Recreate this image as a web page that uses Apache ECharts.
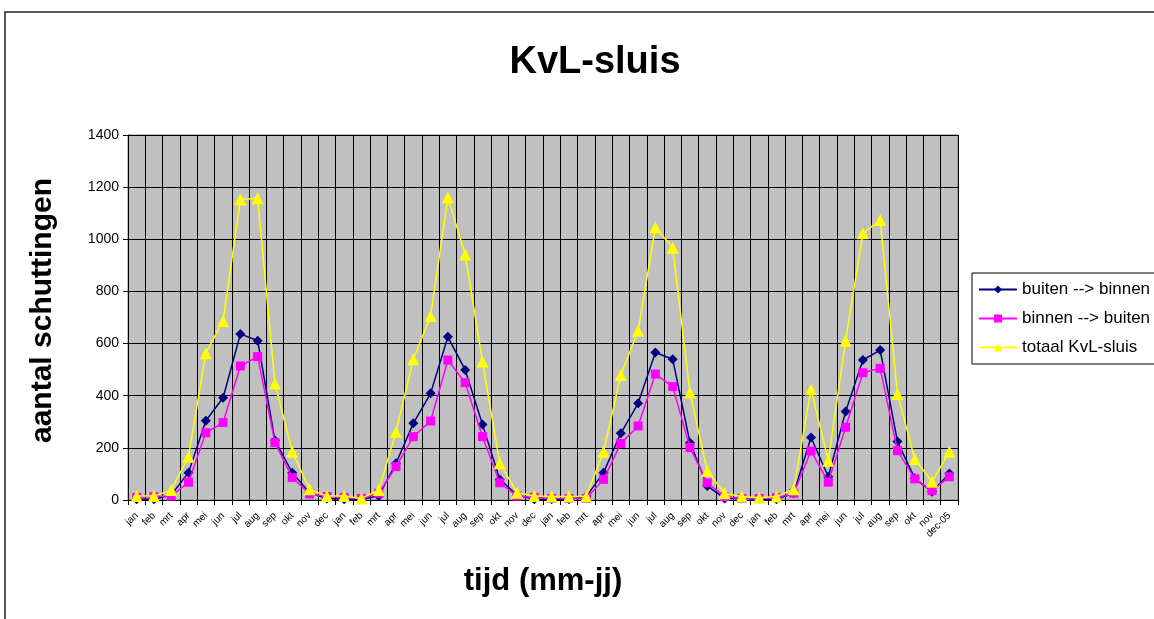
<!DOCTYPE html>
<html>
<head>
<meta charset="utf-8">
<script src="https://cdn.jsdelivr.net/npm/echarts@6/dist/echarts.min.js"></script>
<style>
  html, body { margin: 0; padding: 0; background: #fff; }
  #chart { width: 1154px; height: 619px; }
</style>
</head>
<body>
<div id="chart"></div>
<script>
// maanden jan-02 t/m dec-05
const months = ["jan", "feb", "mrt", "apr", "mei", "jun", "jul", "aug", "sep", "okt", "nov", "dec"];
const years = ["02", "03", "04", "05"];
const categories = [];
years.forEach(y => months.forEach(m => categories.push(m + "-" + y)));

const buitenBinnen = [
  3, 3, 19, 105, 304, 392, 637, 611, 228, 105, 28, 6,
  3, 3, 15, 141, 294, 409, 626, 499, 290, 79, 19, 3,
  3, 3, 13, 105, 256, 371, 566, 540, 220, 54, 6, 6,
  4, 3, 26, 240, 89, 339, 537, 575, 224, 83, 32, 102
];
const binnenBuiten = [
  10, 13, 15, 68, 258, 297, 514, 550, 220, 86, 23, 13,
  10, 6, 26, 128, 243, 303, 537, 450, 243, 66, 15, 10,
  6, 6, 6, 79, 217, 284, 483, 435, 201, 66, 13, 6,
  6, 9, 26, 188, 68, 279, 488, 505, 189, 81, 36, 89
];
const totaal = [
  15, 15, 38, 166, 563, 687, 1153, 1157, 447, 185, 41, 15,
  15, 6, 38, 262, 540, 706, 1160, 942, 531, 141, 28, 15,
  13, 13, 13, 185, 479, 649, 1046, 968, 412, 111, 26, 13,
  9, 13, 41, 424, 151, 611, 1023, 1074, 407, 157, 70, 185
];
const yTicks = [0, 200, 400, 600, 800, 1000, 1200, 1400];

const chart = echarts.init(document.getElementById("chart"));
const font = "Liberation Sans, Arial, sans-serif";

chart.setOption({
  animation: false,
  backgroundColor: "#fff",
  textStyle: { fontFamily: font, color: "#000" },
  title: {
    text: "KvL-sluis",
    left: 590, top: 39, textAlign: "center",
    textStyle: { fontSize: 38, fontWeight: "bold", color: "#000", fontFamily: font }
  },
  graphic: [
    {
      type: "rect", silent: true, z: -1,
      shape: { x: 5, y: 12, width: 1300, height: 800 },
      style: { fill: "none", stroke: "#222", lineWidth: 1.5 }
    }
  ],
  legend: {
    orient: "vertical",
    left: 972, top: 273,
    padding: [8, 10, 8, 6],
    itemGap: 12,
    itemWidth: 38, itemHeight: 10,
    borderColor: "#000", borderWidth: 1,
    textStyle: { fontSize: 17, color: "#000", fontFamily: font },
    data: ["buiten --> binnen", "binnen --> buiten", "totaal KvL-sluis"]
  },
  grid: { left: 128, top: 135, right: 196, bottom: 119, show: true,
          backgroundColor: "#c0c0c0", borderColor: "#808080", borderWidth: 1 },
  xAxis: {
    type: "category",
    data: categories,
    boundaryGap: true,
    name: "tijd (mm-jj)",
    nameLocation: "middle",
    nameGap: 66,
    nameTextStyle: { fontSize: 31, fontWeight: "bold", color: "#000", fontFamily: font },
    axisLine: { lineStyle: { color: "#000", width: 1 } },
    axisTick: { show: true, inside: false, length: 5, alignWithLabel: false, lineStyle: { color: "#000" } },
    axisLabel: {
      interval: 0, rotate: 45, fontSize: 10, color: "#000", margin: 14,
      formatter: (v, i) => i === categories.length - 1 ? v : v.slice(0, 3)
    },
    splitLine: { show: true, interval: 0, lineStyle: { color: "#000", width: 1 } }
  },
  yAxis: {
    type: "value",
    min: 0, max: 1400, interval: 200,
    name: "aantal schuttingen",
    nameLocation: "middle",
    nameGap: 70,
    nameRotate: 90,
    nameTextStyle: { fontSize: 30, fontWeight: "bold", color: "#000", fontFamily: font,
                     padding: [0, 0, 0, 14] },
    axisLine: { show: true, lineStyle: { color: "#000", width: 1 } },
    axisTick: { show: true, length: 5, lineStyle: { color: "#000" } },
    axisLabel: { fontSize: 14, color: "#000", margin: 9,
                 formatter: v => yTicks.includes(v) ? String(v) : "" },
    splitLine: { show: true, lineStyle: { color: "#000", width: 1 } }
  },
  series: [
    {
      name: "buiten --> binnen", type: "line", data: buitenBinnen,
      symbol: "diamond", symbolSize: 10,
      itemStyle: { color: "#000080" },
      lineStyle: { color: "#000080", width: 1.5 }, z: 3
    },
    {
      name: "binnen --> buiten", type: "line", data: binnenBuiten,
      symbol: "rect", symbolSize: 9,
      itemStyle: { color: "#ff00ff" },
      lineStyle: { color: "#ff00ff", width: 1.5 }, z: 4
    },
    {
      name: "totaal KvL-sluis", type: "line", data: totaal,
      symbol: "triangle", symbolSize: 12,
      itemStyle: { color: "#ffff00" },
      lineStyle: { color: "#ffff00", width: 1.5 }, z: 5
    }
  ]
});
</script>
</body>
</html>
